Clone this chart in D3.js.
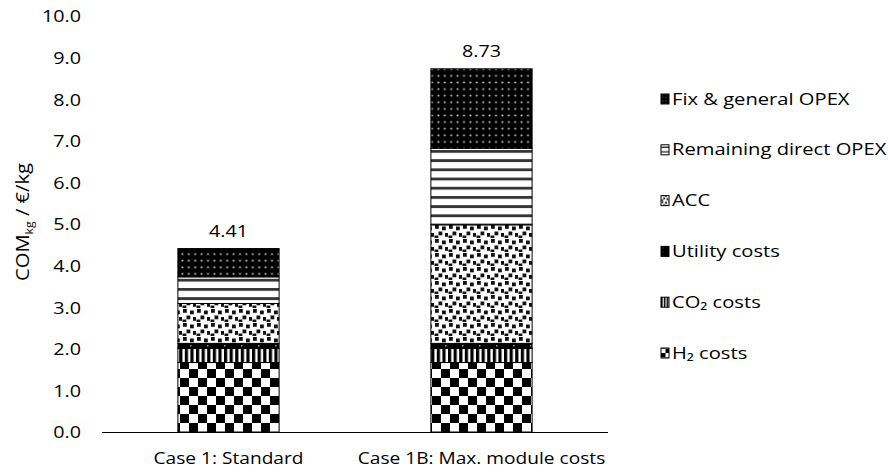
<!DOCTYPE html>
<html>
<head>
<meta charset="utf-8">
<script src="https://cdn.jsdelivr.net/npm/d3@7"></script>
<style>
  html, body { margin: 0; padding: 0; background: #fff; }
  svg { display: block; font-family: "Open Sans", "Lato", sans-serif; }
</style>
</head>
<body>
<svg id="chart" width="888" height="472"></svg>
<script>
// Cost of manufacturing per kg, broken down by cost component
const categories = ["Case 1: Standard", "Case 1B: Max. module costs"];
const seriesNames = ["H₂ costs", "CO₂ costs", "Utility costs", "ACC", "Remaining direct OPEX", "Fix & general OPEX"];
const seriesKeys = ["h2", "co2", "utility", "acc", "remaining", "fix"];
const h2Costs        = [1.67, 1.67];
const co2Costs       = [0.34, 0.34];
const utilityCosts   = [0.12, 0.12];
const accCosts       = [0.96, 2.85];
const remainingOpex  = [0.64, 1.84];
const fixGeneralOpex = [0.68, 1.91];
const totals = [4.41, 8.73];
const yTicks = [0, 1, 2, 3, 4, 5, 6, 7, 8, 9, 10];

const seriesValues = [h2Costs, co2Costs, utilityCosts, accCosts, remainingOpex, fixGeneralOpex];
const rows = categories.map((c, i) => {
  const r = { category: c };
  seriesKeys.forEach((k, j) => { r[k] = seriesValues[j][i]; });
  return r;
});

const svg = d3.select("#chart");
const x = d3.scaleBand().domain(categories).range([102, 608]).paddingInner(0.6).paddingOuter(0.3);
const y = d3.scaleLinear().domain([0, 10]).range([432, 16]);

// widen glyphs slightly so the type reads like the original report font
const STRETCH = 1.16;

// ---- fill patterns ----
const defs = svg.append("defs");
function makePatterns(suffix, s) {
  // checkerboard
  let p = defs.append("pattern").attr("id", "h2" + suffix).attr("patternUnits", "userSpaceOnUse")
    .attr("width", 18 * s).attr("height", 18 * s);
  p.append("rect").attr("width", 18 * s).attr("height", 18 * s).attr("fill", "#fff");
  p.append("rect").attr("width", 9 * s).attr("height", 9 * s).attr("fill", "#000");
  p.append("rect").attr("x", 9 * s).attr("y", 9 * s).attr("width", 9 * s).attr("height", 9 * s).attr("fill", "#000");
  // vertical stripes
  p = defs.append("pattern").attr("id", "co2" + suffix).attr("patternUnits", "userSpaceOnUse")
    .attr("width", 5.6 * s).attr("height", 6 * s);
  p.append("rect").attr("width", 5.6 * s).attr("height", 6 * s).attr("fill", "#fff");
  p.append("rect").attr("width", 3.2 * s).attr("height", 6 * s).attr("fill", "#000");
  // near-solid black with sparse light dots
  p = defs.append("pattern").attr("id", "utility" + suffix).attr("patternUnits", "userSpaceOnUse")
    .attr("width", 17 * s).attr("height", 8 * s);
  p.append("rect").attr("width", 17 * s).attr("height", 8 * s).attr("fill", "#000");
  p.append("rect").attr("x", 3 * s).attr("y", 1 * s).attr("width", 1.5 * s).attr("height", 1.5 * s).attr("fill", "#999");
  // confetti squares on white
  p = defs.append("pattern").attr("id", "acc" + suffix).attr("patternUnits", "userSpaceOnUse")
    .attr("width", 14 * s).attr("height", 14 * s);
  p.append("rect").attr("width", 14 * s).attr("height", 14 * s).attr("fill", "#fff");
  [[1, 1], [8, 2.5], [4.5, 7.5], [11, 9], [0.5, 11.5]].forEach(([a, b]) => {
    p.append("rect").attr("x", a * s).attr("y", b * s).attr("width", 3.8 * s).attr("height", 3.8 * s).attr("fill", "#111");
  });
  // horizontal lines
  p = defs.append("pattern").attr("id", "remaining" + suffix).attr("patternUnits", "userSpaceOnUse")
    .attr("width", 9 * s).attr("height", 9.2 * s);
  p.append("rect").attr("width", 9 * s).attr("height", 9.2 * s).attr("fill", "#fff");
  p.append("rect").attr("y", 2.8 * s).attr("width", 9 * s).attr("height", 2.8 * s).attr("fill", "#333");
  // black with light dots
  p = defs.append("pattern").attr("id", "fix" + suffix).attr("patternUnits", "userSpaceOnUse")
    .attr("width", 6.4 * s).attr("height", 6.6 * s);
  p.append("rect").attr("width", 6.4 * s).attr("height", 6.6 * s).attr("fill", "#000");
  p.append("circle").attr("cx", 3.2 * s).attr("cy", 3.3 * s).attr("r", 1 * s).attr("fill", "#ccc");
}
makePatterns("", 1);
makePatterns("-sm", 0.5);

// ---- stacked bars ----
const stacked = d3.stack().keys(seriesKeys)(rows);
svg.append("g").selectAll("g").data(stacked).join("g")
  .attr("fill", d => `url(#${d.key})`)
  .selectAll("rect").data(d => d).join("rect")
  .attr("x", d => x(d.data.category))
  .attr("width", x.bandwidth())
  .attr("y", d => y(d[1]))
  .attr("height", d => y(d[0]) - y(d[1]))
  .attr("stroke", "#000")
  .attr("stroke-width", 1);

// ---- total labels ----
svg.append("g").selectAll("text").data(categories).join("text")
  .attr("transform", (d, i) => `translate(${x(d) + x.bandwidth() / 2},${y(totals[i]) - 12}) scale(${STRETCH},1)`)
  .attr("text-anchor", "middle")
  .attr("font-size", 17)
  .attr("fill", "#000")
  .text((d, i) => totals[i].toFixed(2));

// ---- axes ----
const yAxis = svg.append("g").attr("transform", "translate(81,0)")
  .call(d3.axisLeft(y).tickValues(yTicks).tickFormat(d3.format(".1f")).tickSize(0).tickPadding(0));
yAxis.select(".domain").remove();
yAxis.selectAll("text")
  .attr("font-size", 17).attr("font-family", "'Open Sans', sans-serif").attr("fill", "#000")
  .attr("x", 0).attr("dy", "0.35em")
  .attr("transform", `scale(${STRETCH},1)`);

const xAxis = svg.append("g").attr("transform", `translate(0,${y(0)})`)
  .call(d3.axisBottom(x).tickSize(0).tickPadding(20));
xAxis.select(".domain").attr("stroke", "#000").attr("stroke-width", 1.2)
  .attr("d", "M102,0.5H608");
xAxis.selectAll("text")
  .attr("font-size", 16.5).attr("font-family", "'Open Sans', sans-serif").attr("fill", "#000")
  .attr("transform", `scale(${STRETCH},1)`);

// ---- y-axis title ----
const title = svg.append("text")
  .attr("transform", "translate(29,222) rotate(-90) scale(1.12,1)")
  .attr("text-anchor", "middle")
  .attr("font-size", 18)
  .attr("fill", "#000");
title.append("tspan").text("COM");
title.append("tspan").attr("font-size", 11).attr("dy", 4).text("kg");
title.append("tspan").attr("dy", -4).text(" / €/kg");

// ---- legend ----
const legendOrder = seriesKeys.slice().reverse();
const legend = svg.append("g").selectAll("g").data(legendOrder).join("g")
  .attr("transform", (d, i) => `translate(661,${99 + i * 50.8})`);
legend.append("rect")
  .attr("x", 0).attr("y", -5).attr("width", 8).attr("height", 10)
  .attr("fill", d => `url(#${d}-sm)`)
  .attr("stroke", "#000").attr("stroke-width", 1);
legend.append("text")
  .attr("transform", `translate(11,0) scale(1.26,1)`)
  .attr("dy", "0.35em")
  .attr("font-size", 16)
  .attr("fill", "#000")
  .text(d => seriesNames[seriesKeys.indexOf(d)]);
</script>
</body>
</html>
